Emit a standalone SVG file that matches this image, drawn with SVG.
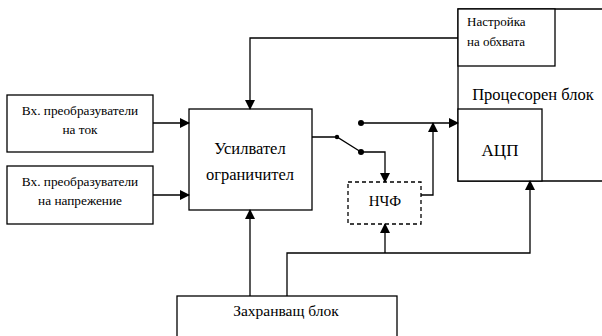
<svg xmlns="http://www.w3.org/2000/svg" width="602" height="336" viewBox="0 0 602 336">
<style>
.b{fill:#fff;stroke:#000;stroke-width:1.3}
.n{fill:none;stroke:#000;stroke-width:1.3}
text{font-family:'Liberation Serif','Times New Roman','DejaVu Serif',serif;fill:#000;text-anchor:middle}
</style>
<defs>
<marker id="a" markerWidth="10" markerHeight="10" refX="9" refY="5" orient="auto" markerUnits="userSpaceOnUse">
<path d="M0,0 L10,5 L0,10 Z" fill="#000"/>
</marker>
</defs>
<rect width="602" height="336" fill="#fff"/>
<g id="proc">
<path class="n" d="M602,9 H458 V181 H602"/>
<text x="533" y="100" font-size="16.5">Процесорен блок</text>
</g>
<g id="nastroika">
<rect class="b" x="458" y="9" width="97" height="57"/>
<text x="467" y="26" font-size="13" text-anchor="start" style="text-anchor:start">Настройка</text>
<text x="467" y="46" font-size="13" text-anchor="start" style="text-anchor:start">на обхвата</text>
</g>
<g id="adc">
<rect class="b" x="458" y="109" width="84" height="72"/>
<text x="500" y="156" font-size="17">АЦП</text>
</g>
<g id="tok">
<rect class="b" x="7" y="95" width="146" height="57"/>
<text x="80" y="115" font-size="13.3">Вх. преобразуватели</text>
<text x="80" y="134" font-size="13.3">на ток</text>
</g>
<g id="napr">
<rect class="b" x="7" y="166" width="146" height="58"/>
<text x="80" y="186" font-size="13.3">Вх. преобразуватели</text>
<text x="80" y="205" font-size="13.3">на напрежение</text>
</g>
<g id="amp">
<rect class="b" x="189" y="109" width="123" height="101"/>
<text x="250" y="154" font-size="16.5">Усилвател</text>
<text x="250" y="180" font-size="16.5">ограничител</text>
</g>
<g id="nchf">
<rect class="b" x="348" y="182" width="73" height="42" stroke-dasharray="4,3"/>
<text x="385" y="206" font-size="15">НЧФ</text>
</g>
<g id="power">
<rect class="b" x="177" y="296" width="220" height="50"/>
<text x="286" y="316" font-size="15.5">Захранващ блок</text>
</g>
<g id="connectors">
<path class="n" d="M153,123 H189" marker-end="url(#a)"/>
<path class="n" d="M153,195 H189" marker-end="url(#a)"/>
<path class="n" d="M458,38 H250 V109" marker-end="url(#a)"/>
<path class="n" d="M250,296 V210" marker-end="url(#a)"/>
<path class="n" d="M312,137 H337 L361,152"/>
<path class="n" d="M361,123 H458" marker-end="url(#a)"/>
<path class="n" d="M361,152 H385 V182" marker-end="url(#a)"/>
<path class="n" d="M421,195 H433 V123" marker-end="url(#a)"/>
<path class="n" d="M287,296 V253 H530 V181" marker-end="url(#a)"/>
<path class="n" d="M385,253 V224" marker-end="url(#a)"/>
<circle cx="337" cy="137" r="2.2"/>
<circle cx="361" cy="123" r="3"/>
<circle cx="361" cy="152" r="3"/>
</g>
</svg>
